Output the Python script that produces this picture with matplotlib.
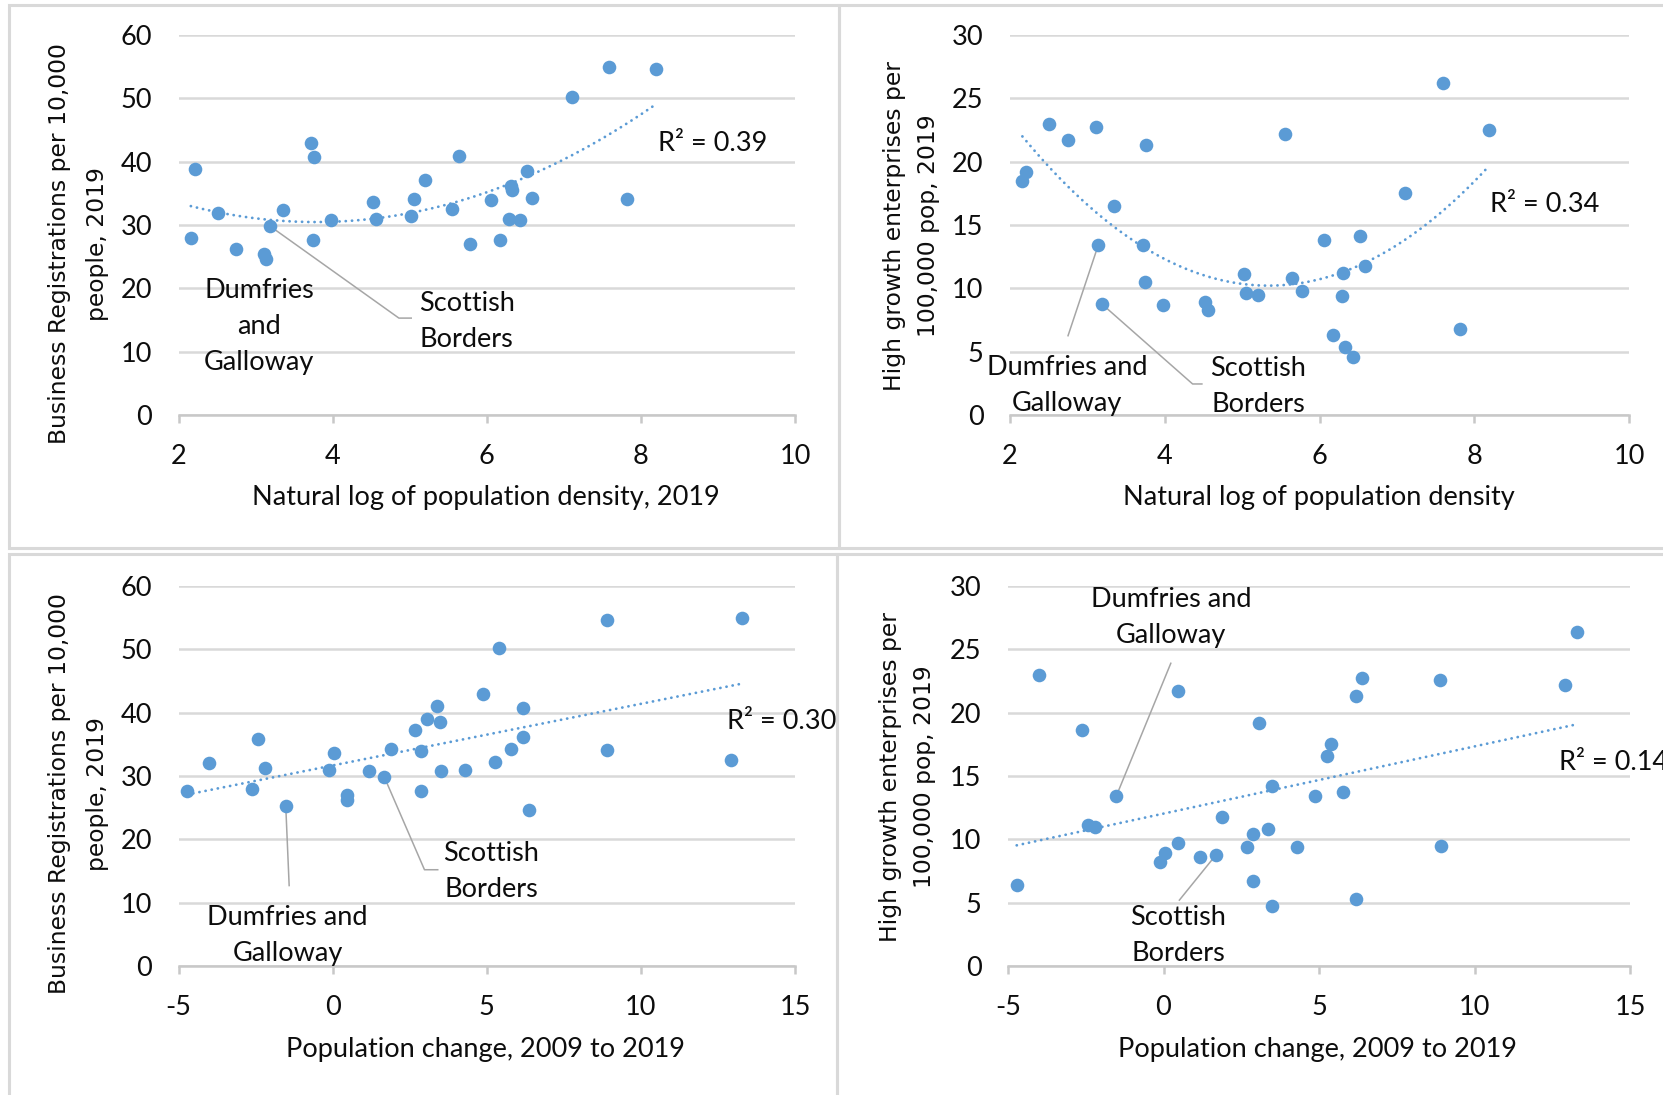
import matplotlib
matplotlib.use("Agg")
import matplotlib.pyplot as plt
from matplotlib.patches import Rectangle
import numpy as np

# ---------------- data ----------------
# Natural log of population density (one value per council area)
log_density = [2.16, 2.21, 2.51, 2.75, 3.11, 3.14, 3.19, 3.35, 3.72, 3.76, 3.75,
               3.98, 4.52, 4.56, 5.02, 5.05, 5.20, 5.55, 5.64, 5.78, 6.06, 6.17,
               6.29, 6.31, 6.33, 6.43, 6.52, 6.59, 7.11, 7.59, 7.82, 8.19]
# Business registrations per 10,000 people, 2019 (against density)
regs_by_density = [28.0, 38.9, 31.9, 26.2, 25.4, 24.7, 29.8, 32.3, 43.0, 40.7, 27.6,
                   30.8, 33.6, 31.0, 31.4, 34.1, 37.1, 32.5, 40.9, 27.0, 34.0, 27.6,
                   30.9, 36.2, 35.5, 30.8, 38.5, 34.2, 50.2, 54.9, 34.1, 54.7]
# High growth enterprises per 100,000 pop, 2019 (against density)
hge_by_density = [18.5, 19.2, 23.0, 21.7, 22.7, 13.4, 8.75, 16.5, 13.4, 21.3, 10.5,
                  8.7, 8.9, 8.3, 11.1, 9.6, 9.5, 22.2, 10.8, 9.8, 13.8, 6.3,
                  9.4, 11.2, 5.35, 4.6, 14.1, 11.8, 17.5, 26.2, 6.8, 22.5]

# Population change, 2009 to 2019
pop_change = [-4.72, -4.00, -2.62, -2.42, -2.21, -1.52, -0.12, 0.06, 0.47, 0.48, 1.17,
              1.68, 1.88, 2.68, 2.87, 2.88, 3.07, 3.37, 3.49, 3.50, 4.28, 4.88,
              5.27, 5.39, 5.78, 6.18, 6.19, 6.38, 8.90, 8.91, 12.91, 13.28]
regs_by_change = [27.6, 32.1, 28.0, 35.8, 31.3, 25.2, 31.0, 33.6, 27.0, 26.2, 30.8,
                  29.8, 34.2, 37.2, 34.0, 27.6, 39.0, 41.0, 38.5, 30.8, 31.0, 43.0,
                  32.2, 50.2, 34.2, 40.7, 36.1, 24.6, 54.7, 34.1, 32.5, 54.9]
hge_by_change = [6.4, 23.0, 18.6, 11.1, 11.0, 13.4, 8.2, 8.9, 21.7, 9.7, 8.6,
                 8.75, 11.8, 9.4, 10.4, 6.7, 19.2, 10.8, 14.2, 4.7, 9.4, 13.4,
                 16.6, 17.5, 13.7, 21.3, 5.3, 22.7, 22.6, 9.5, 22.2, 26.4]

r2_labels = ["R² = 0.39", "R² = 0.34", "R² = 0.30", "R² = 0.14"]
density_ticks = [2, 4, 6, 8, 10]
change_ticks = [-5, 0, 5, 10, 15]
regs_ticks = [0, 10, 20, 30, 40, 50, 60]
hge_ticks = [0, 5, 10, 15, 20, 25, 30]

# ---------------- style ----------------
W, H = 1663, 1095
BLUE = "#5b9bd5"
GRID = "#d9d9d9"
AXIS = "#c8c8c8"
LEADER = "#a6a6a6"
TXT = "#0d0d0d"
FONT = "Lato"
YFONT = "DejaVu Sans"
FS = 19.5
YFS = 16.9

plt.rcParams["axes.unicode_minus"] = False
plt.rcParams["font.family"] = FONT

fig = plt.figure(figsize=(W / 100, H / 100), dpi=100)


def px_rect(left, top, right, bottom):
    return [left / W, 1 - bottom / H, (right - left) / W, (bottom - top) / H]


# panel frames
for (l, t, r, b) in [(9, 5, 839, 548), (839, 5, 1700, 548),
                     (9, 554, 837, 1140), (837, 554, 1700, 1140)]:
    fig.patches.append(Rectangle((l / W, 1 - b / H), (r - l) / W, (b - t) / H,
                                 transform=fig.transFigure, fill=False,
                                 edgecolor=GRID, linewidth=2.2, zorder=0))


def make_panel(rect, x, y, xticks, yticks, order, r2, r2_pos,
               xlabel, xlabel_pos, ylabel_lines, ylabel_pos):
    ax = fig.add_axes(px_rect(*rect))
    ax.set_xlim(xticks[0], xticks[-1])
    ax.set_ylim(yticks[0], yticks[-1])
    ax.set_xticks(xticks)
    ax.set_yticks(yticks)
    for s in ("top", "right", "left"):
        ax.spines[s].set_visible(False)
    ax.spines["bottom"].set_color(AXIS)
    ax.spines["bottom"].set_linewidth(1.8)
    ax.spines["bottom"].set_zorder(1)
    ax.yaxis.grid(True, color=GRID, linewidth=1.8, zorder=0)
    ax.set_axisbelow(True)
    ax.tick_params(axis="y", length=0, pad=19, labelsize=FS, labelcolor=TXT)
    ax.tick_params(axis="x", length=5.8, width=1.8, color=AXIS, direction="out",
                   pad=15, labelsize=FS, labelcolor=TXT)
    for lab in ax.get_xticklabels() + ax.get_yticklabels():
        lab.set_fontfamily(FONT)

    # trendline fitted to the points
    coef = np.polyfit(x, y, order)
    xs = np.linspace(min(x), max(x), 200)
    ax.plot(xs, np.polyval(coef, xs), color=BLUE, linewidth=2.0,
            linestyle=(0, (0.05, 2.2)), dash_capstyle="round", zorder=2)
    ax.plot(x, y, "o", color=BLUE, markersize=9.8, markeredgewidth=0, zorder=3)

    ax.text(r2_pos[0], r2_pos[1], r2, fontsize=FS, color=TXT, ha="left",
            va="center", family=FONT)

    fig.text(xlabel_pos[0] / W, 1 - xlabel_pos[1] / H, xlabel, fontsize=FS,
             color=TXT, ha="center", va="center", family=FONT)
    for line, xp in zip(ylabel_lines, ylabel_pos[0]):
        fig.text(xp / W, 1 - ylabel_pos[1] / H, line, fontsize=YFS, color=TXT,
                 rotation=90, ha="center", va="center", family=YFONT)
    return ax


def label(ax, text, xy):
    ax.text(xy[0], xy[1], text, fontsize=FS, color=TXT, ha="center",
            va="center", family=FONT, linespacing=1.55, zorder=4)


def leader(ax, pts):
    xs, ys = zip(*pts)
    ax.plot(xs, ys, color=LEADER, linewidth=1.1, zorder=2.5, clip_on=False)


# top-left: registrations vs density
ax1 = make_panel((178.5, 35, 795, 415), log_density, regs_by_density,
                 density_ticks, regs_ticks, 2, r2_labels[0], (8.22, 42.9),
                 "Natural log of population density, 2019", (486, 498),
                 ["Business Registrations per 10,000", "people, 2019"],
                 ([60, 97.5], 244))
label(ax1, "Dumfries\nand\nGalloway", (3.045, 14.05))
label(ax1, "Scottish\nBorders", (5.74, 14.8))
leader(ax1, [(3.19, 29.8), (4.86, 15.3), (5.02, 15.3)])

# top-right: high growth enterprises vs density
ax2 = make_panel((1010, 35, 1629, 415), log_density, hge_by_density,
                 density_ticks, hge_ticks, 2, r2_labels[1], (8.20, 16.65),
                 "Natural log of population density", (1319, 498),
                 ["High growth enterprises per", "100,000 pop, 2019"],
                 ([894, 928], 226))
label(ax2, "Dumfries and\nGalloway", (2.74, 2.29))
label(ax2, "Scottish\nBorders", (5.205, 2.25))
leader(ax2, [(3.14, 13.4), (2.75, 6.26)])
leader(ax2, [(3.19, 8.75), (4.36, 2.45), (4.48, 2.45)])

# bottom-left: registrations vs population change
ax3 = make_panel((178.5, 586, 795, 966), pop_change, regs_by_change,
                 change_ticks, regs_ticks, 1, r2_labels[2], (12.78, 38.6),
                 "Population change, 2009 to 2019", (486, 1050),
                 ["Business Registrations per 10,000", "people, 2019"],
                 ([60, 97.5], 794))
label(ax3, "Dumfries and\nGalloway", (-1.465, 4.78))
label(ax3, "Scottish\nBorders", (5.14, 14.9))
leader(ax3, [(-1.52, 25.2), (-1.41, 12.7)])
leader(ax3, [(1.68, 29.8), (2.98, 15.2), (3.41, 15.2)])

# bottom-right: high growth enterprises vs population change
ax4 = make_panel((1008, 586, 1630, 966), pop_change, hge_by_change,
                 change_ticks, hge_ticks, 1, r2_labels[3], (12.72, 16.1),
                 "Population change, 2009 to 2019", (1318, 1050),
                 ["High growth enterprises per", "100,000 pop, 2019"],
                 ([891, 925], 777))
label(ax4, "Dumfries and\nGalloway", (0.24, 27.5))
label(ax4, "Scottish\nBorders", (0.466, 2.43))
leader(ax4, [(-1.52, 13.4), (0.235, 23.9)])
leader(ax4, [(1.68, 8.75), (0.51, 5.2)])

fig.savefig("out.png", dpi=100, facecolor="white")
